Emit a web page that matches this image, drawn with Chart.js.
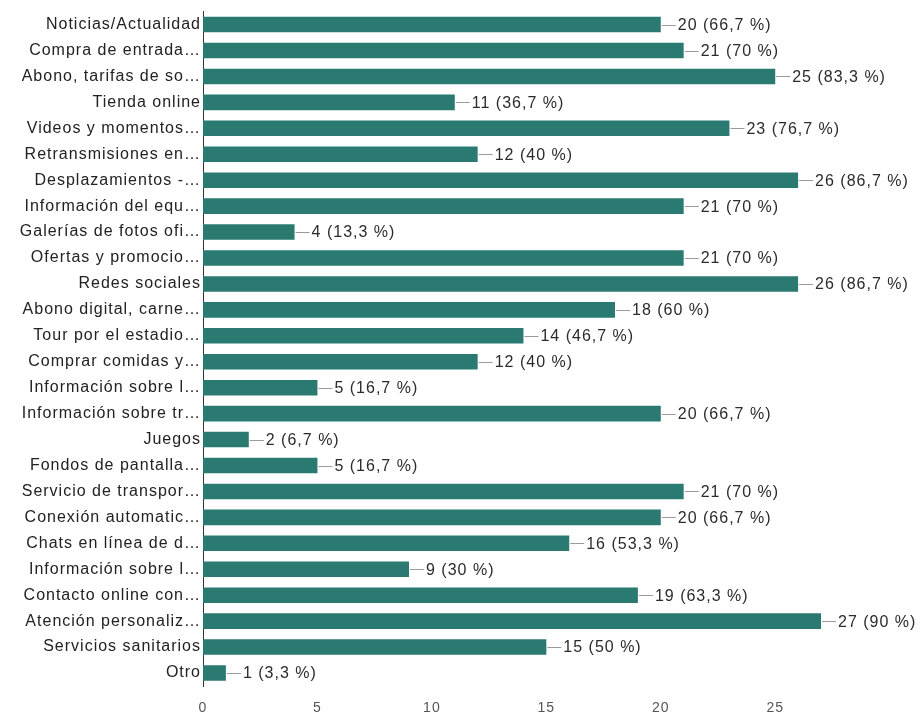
<!DOCTYPE html>
<html>
<head>
<meta charset="utf-8">
<script src="https://cdn.jsdelivr.net/npm/chart.js@4"></script>
<style>
  html, body { margin: 0; padding: 0; background: #fff; }
  #wrap { width: 924px; height: 713px; }
</style>
</head>
<body>
<div id="wrap"><canvas id="answersChart" width="924" height="713"></canvas></div>
<script>
const categories = [
    'Noticias/Actualidad', 'Compra de entrada…', 'Abono, tarifas de so…', 'Tienda online',
    'Videos y momentos…', 'Retransmisiones en…', 'Desplazamientos -…', 'Información del equ…',
    'Galerías de fotos ofi…', 'Ofertas y promocio…', 'Redes sociales', 'Abono digital, carne…',
    'Tour por el estadio…', 'Comprar comidas y…', 'Información sobre l…', 'Información sobre tr…',
    'Juegos', 'Fondos de pantalla…', 'Servicio de transpor…', 'Conexión automatic…',
    'Chats en línea de d…', 'Información sobre l…', 'Contacto online con…', 'Atención personaliz…',
    'Servicios sanitarios', 'Otro'
];
const answers = [20, 21, 25, 11, 23, 12, 26, 21, 4, 21, 26, 18, 14, 12, 5, 20, 2, 5, 21, 20, 16, 9, 19, 27, 15, 1];
const totalResponses = 30;
const xTicks = [0, 5, 10, 15, 20, 25];

const font = "'Liberation Sans', Arial, sans-serif";

function pctLabel(v) {
    const p = Math.round(v / totalResponses * 1000) / 10;
    return v + ' (' + String(p).replace('.', ',') + ' %)';
}

// category names are drawn a bit wider: space the letters while the y axis paints,
// then go back to normal before the x axis (z: 1) is drawn after the bars
const wideText = {
    id: 'wideText',
    beforeDraw(chart) { chart.ctx.letterSpacing = '1px'; },
    afterDatasetsDraw(chart) { chart.ctx.letterSpacing = '0px'; }
};

// little leader line + "n (pp %)" after every bar
const valueLabels = {
    id: 'valueLabels',
    afterDatasetsDraw(chart) {
        const ctx = chart.ctx;
        const meta = chart.getDatasetMeta(0);
        ctx.save();
        ctx.font = '16px ' + font;
        ctx.letterSpacing = '1px';
        ctx.textBaseline = 'middle';
        ctx.textAlign = 'left';
        meta.data.forEach((bar, i) => {
            const y = Math.round(bar.y) + 0.5;
            ctx.strokeStyle = '#9a9a9a';
            ctx.lineWidth = 1;
            ctx.beginPath();
            ctx.moveTo(bar.x + 1, y);
            ctx.lineTo(bar.x + 15, y);
            ctx.stroke();
            ctx.fillStyle = '#2b2b2b';
            ctx.fillText(pctLabel(answers[i]), bar.x + 17, bar.y + 1);
        });
        ctx.restore();
    }
};

new Chart(document.getElementById('answersChart').getContext('2d'), {
    type: 'bar',
    data: {
        labels: categories,
        datasets: [{
            data: answers,
            backgroundColor: '#2b7a72',
            borderWidth: 0,
            barPercentage: 0.6,
            categoryPercentage: 1
        }]
    },
    options: {
        indexAxis: 'y',
        responsive: false,
        animation: false,
        layout: { padding: { top: 7, right: 103, left: 0, bottom: 0 } },
        plugins: {
            legend: { display: false },
            tooltip: { enabled: false }
        },
        scales: {
            x: {
                min: 0,
                max: 27,
                z: 1,
                grid: { display: false },
                border: { display: false },
                afterFit(scale) { scale.height = 27; },
                afterBuildTicks(scale) { scale.ticks = xTicks.map(v => ({ value: v })); },
                ticks: {
                    color: '#555',
                    font: { family: font, size: 14 },
                    padding: 6
                }
            },
            y: {
                grid: { display: false, drawTicks: false, tickLength: 0 },
                border: { display: true, color: '#333', width: 1 },
                afterFit(scale) { scale.width = 203; },
                ticks: {
                    color: '#222',
                    font: { family: font, size: 16 },
                    padding: 2,
                    autoSkip: false
                }
            }
        }
    },
    plugins: [wideText, valueLabels]
});
</script>
</body>
</html>
